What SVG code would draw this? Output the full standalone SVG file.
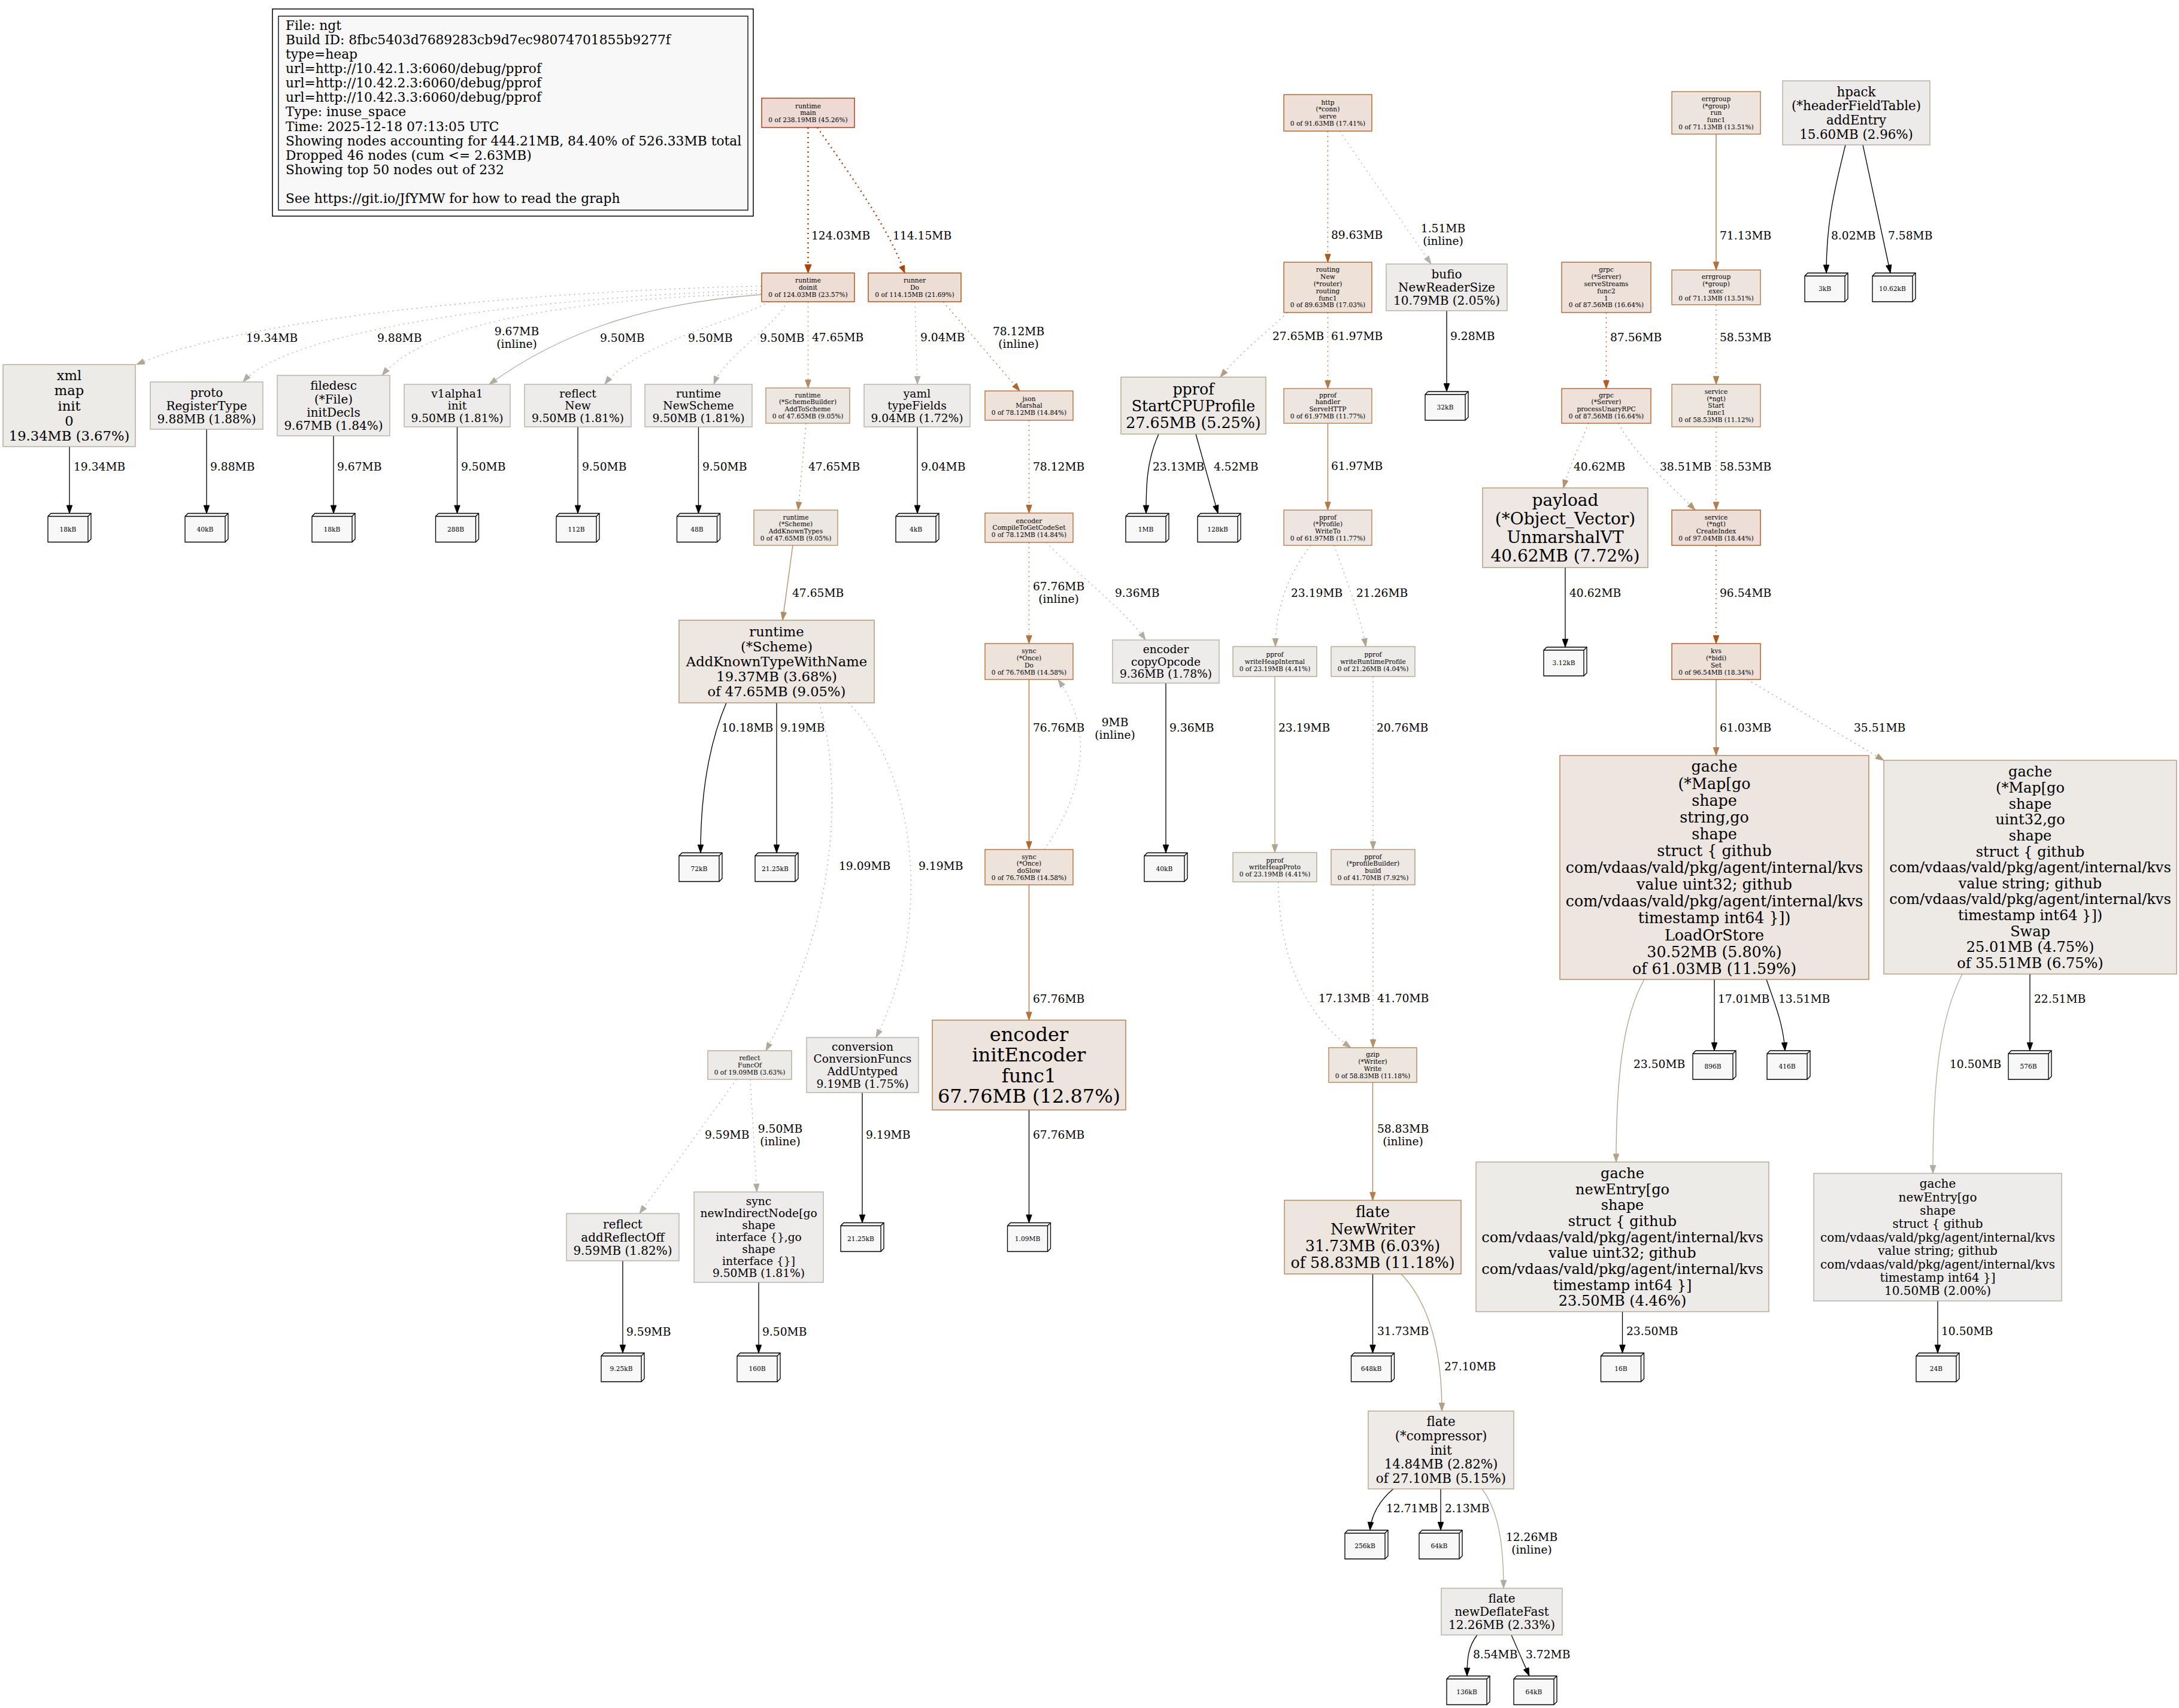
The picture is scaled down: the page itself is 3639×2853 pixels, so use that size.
<svg xmlns="http://www.w3.org/2000/svg" xmlns:xlink="http://www.w3.org/1999/xlink" width="3639" height="2853" viewBox="0 0 3639 2853">
<style>
text{font-family:"DejaVu Serif","Liberation Serif",serif;fill:#000}
.t{text-anchor:middle}
.lg{font-size:21.8px}
.f8{font-size:10.67px}
.f14{font-size:18.67px}
.f15{font-size:20px}
.f16{font-size:21.33px}
.f17{font-size:22.67px}
.f18{font-size:24px}
.f19{font-size:25.33px}
.f21{font-size:28px}
.f24{font-size:32px}
.node rect{stroke-width:1.33}
.e{fill:none;stroke-width:1.33}
.d{stroke-dasharray:2,6}
.w2{stroke-width:2.67}
.lb{font-size:18.67px}
.c{text-anchor:middle}
.tag path.ar{fill:#000;stroke:#000}
.tag .e{stroke:#000}
</style>
<defs>
<g id="cube">
<path d="M0,5 L5,0 L72,0 L72,43 L67,48 L0,48 Z" fill="#f8f8f8" stroke="#000" stroke-width="1.33"/>
<path d="M0,5 L67,5 L72,0 M67,5 L67,48" fill="none" stroke="#000" stroke-width="1.33"/>
</g>
</defs>
<rect width="3639" height="2853" fill="#fff"/>

<g id="legend">
<rect x="455" y="15" width="803" height="346" fill="none" stroke="#000" stroke-width="1.5"/>
<rect x="465" y="27" width="784" height="324" fill="#f8f8f8" stroke="#000" stroke-width="1.33"/>
<text class="lg" x="477" y="49.8">File: ngt<tspan x="477" dy="24.1">Build ID: 8fbc5403d7689283cb9d7ec98074701855b9277f</tspan><tspan x="477" dy="24.1">type=heap</tspan><tspan x="477" dy="24.1">url=http://10.42.1.3:6060/debug/pprof</tspan><tspan x="477" dy="24.1">url=http://10.42.2.3:6060/debug/pprof</tspan><tspan x="477" dy="24.1">url=http://10.42.3.3:6060/debug/pprof</tspan><tspan x="477" dy="24.1">Type: inuse_space</tspan><tspan x="477" dy="24.1">Time: 2025-12-18 07:13:05 UTC</tspan><tspan x="477" dy="24.1">Showing nodes accounting for 444.21MB, 84.40% of 526.33MB total</tspan><tspan x="477" dy="24.1">Dropped 46 nodes (cum &lt;= 2.63MB)</tspan><tspan x="477" dy="24.1">Showing top 50 nodes out of 232</tspan><tspan x="477" dy="48.2">See https://git.io/JfYMW for how to read the graph</tspan></text>
</g>

<g id="edges">
<!-- call edges -->
<path class="e d w2" stroke="#b23e00" d="M1349.5,213 L1349.5,444"/><path fill="#b23e00" stroke="#b23e00" d="M1344,442 L1355,442 L1349.5,456 Z"/>
<text class="lb" x="1355" y="399.7">124.03MB</text>
<path class="e d w2" stroke="#b24100" d="M1365,213 C1415,285 1478,372 1507,445"/><path fill="#b24100" stroke="#b24100" d="M1511,456 L1501.9,446.4 L1510.6,443.1 Z"/>
<text class="lb" x="1491" y="399.7">114.15MB</text>
<path class="e d" stroke="#b2a691" d="M1272,478 C950,484 420,525 228,609"/><path fill="#b2a691" stroke="#b2a691" d="M228,609 L238.3,599.4 L242.1,608 Z"/>
<text class="lb" x="411" y="570.7">19.34MB</text>
<path class="e d" stroke="#b2ada1" d="M1272,485 C900,495 480,550 406,638"/><path fill="#b2ada1" stroke="#b2ada1" d="M406,638 L411,624.8 L418.1,630.8 Z"/>
<text class="lb" x="630" y="570.7">9.88MB</text>
<path class="e d" stroke="#b2ada2" d="M1272,490 C1000,498 720,530 638,627"/><path fill="#b2ada2" stroke="#b2ada2" d="M638,627 L643,613.8 L650.2,619.9 Z"/>
<text class="lb c" x="863" y="559.7">9.67MB<tspan x="863" dy="21">(inline)</tspan></text>
<path class="e" stroke="#b2ada2" d="M1272,492 C1100,505 950,545 817,642"/><path fill="#b2ada2" stroke="#b2ada2" d="M817,642 L825,630.4 L830.5,638 Z"/>
<text class="lb" x="1002" y="570.7">9.50MB</text>
<path class="e d" stroke="#b2ada2" d="M1285,504 C1230,535 1060,575 1010,642"/><path fill="#b2ada2" stroke="#b2ada2" d="M1010,642 L1014.2,628.5 L1021.7,634.1 Z"/>
<text class="lb" x="1149" y="570.7">9.50MB</text>
<path class="e d" stroke="#b2ada2" d="M1315,504 C1295,545 1210,595 1192,642"/><path fill="#b2ada2" stroke="#b2ada2" d="M1192,642 L1192.4,627.9 L1201.1,631.3 Z"/>
<text class="lb" x="1269" y="570.7">9.50MB</text>
<path class="e d" stroke="#b28b61" d="M1349.5,504 L1349.5,648"/><path fill="#b28b61" stroke="#b28b61" d="M1344.8,634.7 L1354.2,634.7 L1349.5,648 Z"/>
<text class="lb" x="1356" y="569.7">47.65MB</text>
<path class="e d" stroke="#b2ada3" d="M1528,504 L1532,642"/><path fill="#b2ada3" stroke="#b2ada3" d="M1527.4,628.7 L1536.7,628.7 L1532,642 Z"/>
<text class="lb" x="1537" y="569.7">9.04MB</text>
<path class="e d" stroke="#b2672e" d="M1575,504 L1703,653"/><path fill="#b2672e" stroke="#b2672e" d="M1703,653 L1690.8,645.9 L1697.9,639.9 Z"/>
<text class="lb c" x="1701" y="559.7">78.12MB<tspan x="1701" dy="21">(inline)</tspan></text>
<path class="e d" stroke="#b28b61" d="M1346,707 L1333,852"/><path fill="#b28b61" stroke="#b28b61" d="M1333,852 L1329.5,838.4 L1338.8,839.2 Z"/>
<text class="lb" x="1350" y="785.7">47.65MB</text>
<path class="e" stroke="#b28b61" d="M1324,911 L1307,1036"/><path fill="#b28b61" stroke="#b28b61" d="M1307,1036 L1304.2,1022.2 L1313.4,1023.4 Z"/>
<text class="lb" x="1323" y="996.7">47.65MB</text>
<path class="e d" stroke="#b2672e" d="M1718.5,702 L1718.5,857"/><path fill="#b2672e" stroke="#b2672e" d="M1713.8,843.7 L1723.2,843.7 L1718.5,857 Z"/>
<text class="lb" x="1725" y="785.7">78.12MB</text>
<path class="e d" stroke="#b2743f" d="M1718.5,906 L1718.5,1075"/><path fill="#b2743f" stroke="#b2743f" d="M1713.8,1061.7 L1723.2,1061.7 L1718.5,1075 Z"/>
<text class="lb c" x="1768" y="986.2">67.76MB<tspan x="1768" dy="21">(inline)</tspan></text>
<path class="e d" stroke="#b2ada2" d="M1747,906 C1800,960 1880,1020 1913,1069"/><path fill="#b2ada2" stroke="#b2ada2" d="M1913,1069 L1901.7,1060.6 L1909.5,1055.4 Z"/>
<text class="lb" x="1862" y="996.7">9.36MB</text>
<path class="e" stroke="#b26930" d="M1718.5,1135 L1718.5,1419"/><path fill="#b26930" stroke="#b26930" d="M1713.8,1405.7 L1723.2,1405.7 L1718.5,1419 Z"/>
<text class="lb" x="1725" y="1221.7">76.76MB</text>
<path class="e d" stroke="#b2ada3" d="M1744,1419 C1800,1340 1835,1230 1767,1135"/><path fill="#b2ada3" stroke="#b2ada3" d="M1767,1135 L1778.5,1143.1 L1770.9,1148.5 Z"/>
<text class="lb c" x="1862" y="1212.7">9MB<tspan x="1862" dy="21">(inline)</tspan></text>
<path class="e d" stroke="#b2a692" d="M1368,1174 C1405,1300 1405,1520 1279,1755"/><path fill="#b2a692" stroke="#b2a692" d="M1279,1755 L1281.2,1741.1 L1289.4,1745.5 Z"/>
<text class="lb" x="1401" y="1452.7">19.09MB</text>
<path class="e d" stroke="#b2ada2" d="M1417,1174 C1530,1290 1560,1540 1463,1733"/><path fill="#b2ada2" stroke="#b2ada2" d="M1463,1733 L1464.8,1719 L1473.2,1723.2 Z"/>
<text class="lb" x="1534" y="1452.7">9.19MB</text>
<path class="e" stroke="#b2743f" d="M1718.5,1478 L1718.5,1704"/><path fill="#b2743f" stroke="#b2743f" d="M1713.8,1690.7 L1723.2,1690.7 L1718.5,1704 Z"/>
<text class="lb" x="1725" y="1674.7">67.76MB</text>
<path class="e d" stroke="#b2ada1" d="M1230,1803 L1068,2027"/><path fill="#b2ada1" stroke="#b2ada1" d="M1068,2027 L1072,2013.5 L1079.6,2018.9 Z"/>
<text class="lb" x="1177" y="1901.7">9.59MB</text>
<path class="e d" stroke="#b2ada2" d="M1253,1803 L1264,1991"/><path fill="#b2ada2" stroke="#b2ada2" d="M1264,1991 L1258.5,1978 L1267.9,1977.4 Z"/>
<text class="lb c" x="1303" y="1891.7">9.50MB<tspan x="1303" dy="21">(inline)</tspan></text>
<path class="e d" stroke="#b2591a" d="M2217.5,219 L2217.5,438"/><path fill="#b2591a" stroke="#b2591a" d="M2212.8,424.7 L2222.2,424.7 L2217.5,438 Z"/>
<text class="lb" x="2223" y="398.7">89.63MB</text>
<path class="e d" stroke="#b2b2af" d="M2237,219 L2390,441"/><path fill="#b2b2af" stroke="#b2b2af" d="M2390,441 L2378.6,432.7 L2386.3,427.4 Z"/>
<text class="lb c" x="2410" y="387.7">1.51MB<tspan x="2410" dy="21">(inline)</tspan></text>
<path class="e d" stroke="#b29f83" d="M2150,522 C2110,560 2070,590 2038,630"/><path fill="#b29f83" stroke="#b29f83" d="M2038,630 L2042.7,616.7 L2050,622.5 Z"/>
<text class="lb" x="2125" y="567.7">27.65MB</text>
<path class="e d" stroke="#b27b49" d="M2217.5,522 L2217.5,649"/><path fill="#b27b49" stroke="#b27b49" d="M2212.8,635.7 L2222.2,635.7 L2217.5,649 Z"/>
<text class="lb" x="2223" y="567.7">61.97MB</text>
<path class="e" stroke="#b27b49" d="M2217.5,707 L2217.5,852"/><path fill="#b27b49" stroke="#b27b49" d="M2212.8,838.7 L2222.2,838.7 L2217.5,852 Z"/>
<text class="lb" x="2223" y="784.7">61.97MB</text>
<path class="e d" stroke="#b2a38b" d="M2189,911 C2150,960 2130,1020 2130,1080"/><path fill="#b2a38b" stroke="#b2a38b" d="M2125.3,1066.7 L2134.7,1066.7 L2130,1080 Z"/>
<text class="lb" x="2156" y="996.7">23.19MB</text>
<path class="e d" stroke="#b2a48e" d="M2228,911 C2245,960 2270,1020 2281,1080"/><path fill="#b2a48e" stroke="#b2a48e" d="M2281,1080 L2274,1067.7 L2283.2,1066.1 Z"/>
<text class="lb" x="2265" y="996.7">21.26MB</text>
<path class="e" stroke="#b2a38b" d="M2129,1130 L2129,1424"/><path fill="#b2a38b" stroke="#b2a38b" d="M2124.3,1410.7 L2133.7,1410.7 L2129,1424 Z"/>
<text class="lb" x="2135" y="1221.7">23.19MB</text>
<path class="e d" stroke="#b2a58f" d="M2293,1130 L2293,1419"/><path fill="#b2a58f" stroke="#b2a58f" d="M2288.3,1405.7 L2297.7,1405.7 L2293,1419 Z"/>
<text class="lb" x="2299" y="1221.7">20.76MB</text>
<path class="e d" stroke="#b2a895" d="M2135,1473 C2135,1580 2170,1690 2256,1750"/><path fill="#b2a895" stroke="#b2a895" d="M2256,1750 L2242.4,1746.2 L2247.8,1738.6 Z"/>
<text class="lb" x="2202" y="1673.7">17.13MB</text>
<path class="e d" stroke="#b2916b" d="M2293,1478 L2293,1750"/><path fill="#b2916b" stroke="#b2916b" d="M2288.3,1736.7 L2297.7,1736.7 L2293,1750 Z"/>
<text class="lb" x="2300" y="1673.7">41.70MB</text>
<path class="e" stroke="#b27e4e" d="M2292.5,1808 L2292.5,2005"/><path fill="#b27e4e" stroke="#b27e4e" d="M2287.8,1991.7 L2297.2,1991.7 L2292.5,2005 Z"/>
<text class="lb c" x="2343" y="1891.7">58.83MB<tspan x="2343" dy="21">(inline)</tspan></text>
<path class="e" stroke="#b29f84" d="M2340,2128 C2385,2175 2408,2250 2408,2357"/><path fill="#b29f84" stroke="#b29f84" d="M2403.3,2343.7 L2412.7,2343.7 L2408,2357 Z"/>
<text class="lb" x="2412" y="2288.7">27.10MB</text>
<path class="e" stroke="#b2ab9d" d="M2475,2487 C2500,2520 2511,2570 2511,2653"/><path fill="#b2ab9d" stroke="#b2ab9d" d="M2506.3,2639.7 L2515.7,2639.7 L2511,2653 Z"/>
<text class="lb c" x="2558" y="2573.7">12.26MB<tspan x="2558" dy="21">(inline)</tspan></text>
<path class="e" stroke="#b27039" d="M2866,224 L2866,451"/><path fill="#b27039" stroke="#b27039" d="M2861.3,437.7 L2870.7,437.7 L2866,451 Z"/>
<text class="lb" x="2872" y="399.7">71.13MB</text>
<path class="e d" stroke="#b25b1e" d="M2682.5,522 L2682.5,649"/><path fill="#b25b1e" stroke="#b25b1e" d="M2677.8,635.7 L2687.2,635.7 L2682.5,649 Z"/>
<text class="lb" x="2689" y="569.7">87.56MB</text>
<path class="e d" stroke="#b27f4f" d="M2866,509 L2866,642"/><path fill="#b27f4f" stroke="#b27f4f" d="M2861.3,628.7 L2870.7,628.7 L2866,642 Z"/>
<text class="lb" x="2872" y="569.7">58.53MB</text>
<path class="e d" stroke="#b2926d" d="M2653,707 C2640,740 2620,780 2611,815"/><path fill="#b2926d" stroke="#b2926d" d="M2611,815 L2609.8,800.9 L2618.8,803.3 Z"/>
<text class="lb" x="2628" y="785.7">40.62MB</text>
<path class="e d" stroke="#b29471" d="M2703,707 C2730,760 2790,810 2831,852"/><path fill="#b29471" stroke="#b29471" d="M2831,852 L2818.4,845.8 L2825,839.2 Z"/>
<text class="lb" x="2772" y="785.7">38.51MB</text>
<path class="e d" stroke="#b27f4f" d="M2866,713 L2866,852"/><path fill="#b27f4f" stroke="#b27f4f" d="M2861.3,838.7 L2870.7,838.7 L2866,852 Z"/>
<text class="lb" x="2872" y="785.7">58.53MB</text>
<path class="e d" stroke="#b2500e" d="M2866,911 L2866,1075"/><path fill="#b2500e" stroke="#b2500e" d="M2861.3,1061.7 L2870.7,1061.7 L2866,1075 Z"/>
<text class="lb" x="2872" y="996.7">96.54MB</text>
<path class="e" stroke="#b27c4b" d="M2866,1135 L2866,1262"/><path fill="#b27c4b" stroke="#b27c4b" d="M2861.3,1248.7 L2870.7,1248.7 L2866,1262 Z"/>
<text class="lb" x="2872" y="1221.7">61.03MB</text>
<path class="e d" stroke="#b29776" d="M2918,1135 L3146,1270"/><path fill="#b29776" stroke="#b29776" d="M3146,1270 L3132.2,1267.2 L3137,1259.2 Z"/>
<text class="lb" x="3096" y="1221.7">35.51MB</text>
<path class="e" stroke="#b2a28a" d="M2746,1636 C2710,1700 2699,1800 2699,1941"/><path fill="#b2a28a" stroke="#b2a28a" d="M2694.3,1927.7 L2703.7,1927.7 L2699,1941 Z"/>
<text class="lb" x="2728" y="1783.7">23.50MB</text>
<path class="e" stroke="#b2aca0" d="M3277,1627 C3240,1700 3228,1800 3228,1960"/><path fill="#b2aca0" stroke="#b2aca0" d="M3223.3,1946.7 L3232.7,1946.7 L3228,1960 Z"/>
<text class="lb" x="3256" y="1783.7">10.50MB</text>

<!-- tag edges -->
<g class="tag">
<path class="e" d="M116,745.5 L116,857.5"/><path class="ar" d="M111.3,844.2 L120.7,844.2 L116,857.5 Z"/><text class="lb" x="123" y="785.7">19.34MB</text>
<path class="e" d="M345,717 L345,857.5"/><path class="ar" d="M340.3,844.2 L349.7,844.2 L345,857.5 Z"/><text class="lb" x="351" y="785.7">9.88MB</text>
<path class="e" d="M557,728 L557,857.5"/><path class="ar" d="M552.3,844.2 L561.7,844.2 L557,857.5 Z"/><text class="lb" x="563" y="785.7">9.67MB</text>
<path class="e" d="M763.5,713 L763.5,857.5"/><path class="ar" d="M758.8,844.2 L768.2,844.2 L763.5,857.5 Z"/><text class="lb" x="770" y="785.7">9.50MB</text>
<path class="e" d="M965,713 L965,857.5"/><path class="ar" d="M960.3,844.2 L969.7,844.2 L965,857.5 Z"/><text class="lb" x="972" y="785.7">9.50MB</text>
<path class="e" d="M1166.5,713 L1166.5,857.5"/><path class="ar" d="M1161.8,844.2 L1171.2,844.2 L1166.5,857.5 Z"/><text class="lb" x="1173" y="785.7">9.50MB</text>
<path class="e" d="M1532,713 L1532,857.5"/><path class="ar" d="M1527.3,844.2 L1536.7,844.2 L1532,857.5 Z"/><text class="lb" x="1538" y="785.7">9.04MB</text>
<path class="e" d="M1935,725 C1915,770 1914,810 1914,857.5"/><path class="ar" d="M1909.3,844.2 L1918.7,844.2 L1914,857.5 Z"/><text class="lb" x="1925" y="785.7">23.13MB</text>
<path class="e" d="M1997,725 L2034,857.5"/><path class="ar" d="M2025.9,846 L2034.9,843.4 L2034,857.5 Z"/><text class="lb" x="2027" y="785.7">4.52MB</text>
<path class="e" d="M1213,1174 C1185,1240 1170,1320 1170,1424.5"/><path class="ar" d="M1165.3,1411.2 L1174.7,1411.2 L1170,1424.5 Z"/><text class="lb" x="1205" y="1221.7">10.18MB</text>
<path class="e" d="M1297,1174 L1297,1424.5"/><path class="ar" d="M1292.3,1411.2 L1301.7,1411.2 L1297,1424.5 Z"/><text class="lb" x="1303" y="1221.7">9.19MB</text>
<path class="e" d="M1947,1141 L1947,1424.5"/><path class="ar" d="M1942.3,1411.2 L1951.7,1411.2 L1947,1424.5 Z"/><text class="lb" x="1953" y="1221.7">9.36MB</text>
<path class="e" d="M1718.5,1854 L1718.5,2042.5"/><path class="ar" d="M1713.8,2029.2 L1723.2,2029.2 L1718.5,2042.5 Z"/><text class="lb" x="1725" y="1901.7">67.76MB</text>
<path class="e" d="M1440,1825 L1440,2042.5"/><path class="ar" d="M1435.3,2029.2 L1444.7,2029.2 L1440,2042.5 Z"/><text class="lb" x="1446" y="1901.7">9.19MB</text>
<path class="e" d="M1040,2106 L1040,2260"/><path class="ar" d="M1035.3,2246.7 L1044.7,2246.7 L1040,2260 Z"/><text class="lb" x="1046" y="2230.7">9.59MB</text>
<path class="e" d="M1267,2142 L1267,2260"/><path class="ar" d="M1262.3,2246.7 L1271.7,2246.7 L1267,2260 Z"/><text class="lb" x="1273" y="2230.7">9.50MB</text>
<path class="e" d="M2416,519 L2416,654"/><path class="ar" d="M2411.3,640.7 L2420.7,640.7 L2416,654 Z"/><text class="lb" x="2422" y="567.7">9.28MB</text>
<path class="e" d="M2614,948 L2614,1081"/><path class="ar" d="M2609.3,1067.7 L2618.7,1067.7 L2614,1081 Z"/><text class="lb" x="2621" y="996.7">40.62MB</text>
<path class="e" d="M3082,242 C3060,330 3050,380 3050,456"/><path class="ar" d="M3045.3,442.7 L3054.7,442.7 L3050,456 Z"/><text class="lb" x="3058" y="399.7">8.02MB</text>
<path class="e" d="M3111,242 L3157,456"/><path class="ar" d="M3149.6,444 L3158.8,442 L3157,456 Z"/><text class="lb" x="3153" y="399.7">7.58MB</text>
<path class="e" d="M2863,1636 L2863,1755"/><path class="ar" d="M2858.3,1741.7 L2867.7,1741.7 L2863,1755 Z"/><text class="lb" x="2869" y="1674.7">17.01MB</text>
<path class="e" d="M2950,1636 C2965,1680 2978,1710 2981,1755"/><path class="ar" d="M2975.4,1742 L2984.8,1741.4 L2981,1755 Z"/><text class="lb" x="2970" y="1674.7">13.51MB</text>
<path class="e" d="M3390,1627 L3390,1755"/><path class="ar" d="M3385.3,1741.7 L3394.7,1741.7 L3390,1755 Z"/><text class="lb" x="3397" y="1674.7">22.51MB</text>
<path class="e" d="M2292.5,2128 L2292.5,2260"/><path class="ar" d="M2287.8,2246.7 L2297.2,2246.7 L2292.5,2260 Z"/><text class="lb" x="2300" y="2229.7">31.73MB</text>
<path class="e" d="M2709.5,2191 L2709.5,2260"/><path class="ar" d="M2704.8,2246.7 L2714.2,2246.7 L2709.5,2260 Z"/><text class="lb" x="2716" y="2229.7">23.50MB</text>
<path class="e" d="M3236,2173 L3236,2260"/><path class="ar" d="M3231.3,2246.7 L3240.7,2246.7 L3236,2260 Z"/><text class="lb" x="3242" y="2229.7">10.50MB</text>
<path class="e" d="M2327,2487 C2305,2505 2290,2530 2288,2556"/><path class="ar" d="M2284.4,2542.4 L2293.7,2543.1 L2288,2556 Z"/><text class="lb" x="2315" y="2525.7">12.71MB</text>
<path class="e" d="M2406,2487 L2406,2556"/><path class="ar" d="M2401.3,2542.7 L2410.7,2542.7 L2406,2556 Z"/><text class="lb" x="2413" y="2525.7">2.13MB</text>
<path class="e" d="M2467,2731 C2452,2750 2450,2770 2450,2799.5"/><path class="ar" d="M2445.3,2786.2 L2454.7,2786.2 L2450,2799.5 Z"/><text class="lb" x="2460" y="2769.7">8.54MB</text>
<path class="e" d="M2524,2731 L2554,2799.5"/><path class="ar" d="M2544.4,2789.2 L2553,2785.5 L2554,2799.5 Z"/><text class="lb" x="2548" y="2769.7">3.72MB</text>
</g>
</g>

<g id="nodes">
<g id="n-runtime-main" class="node"><rect x="1272" y="164" width="155" height="49" fill="#eddad5" stroke="#b22500"/><text class="t f8" x="1349.5" y="180.5">runtime<tspan x="1349.5" dy="11.84">main</tspan><tspan x="1349.5" dy="11.84">0 of 238.19MB (45.26%)</tspan></text></g>
<g id="n-runtime-doinit" class="node"><rect x="1272" y="456" width="155" height="48" fill="#edddd5" stroke="#b23e00"/><text class="t f8" x="1349.5" y="472">runtime<tspan x="1349.5" dy="11.84">doinit</tspan><tspan x="1349.5" dy="11.84">0 of 124.03MB (23.57%)</tspan></text></g>
<g id="n-runner-do" class="node"><rect x="1450" y="456" width="155" height="48" fill="#edded5" stroke="#b24100"/><text class="t f8" x="1527.5" y="472">runner<tspan x="1527.5" dy="11.84">Do</tspan><tspan x="1527.5" dy="11.84">0 of 114.15MB (21.69%)</tspan></text></g>
<g id="n-xml" class="node"><rect x="5" y="609" width="221" height="137" fill="#edebe8" stroke="#b2a691"/><text class="t f17" x="115.5" y="635.3">xml<tspan x="115.5" dy="25.16">map</tspan><tspan x="115.5" dy="25.16">init</tspan><tspan x="115.5" dy="25.16">0</tspan><tspan x="115.5" dy="25.16">19.34MB (3.67%)</tspan></text></g>
<g id="n-proto" class="node"><rect x="251" y="638" width="188" height="79" fill="#edecea" stroke="#b2ada1"/><text class="t f15" x="345" y="662.5">proto<tspan x="345" dy="22.2">RegisterType</tspan><tspan x="345" dy="22.2">9.88MB (1.88%)</tspan></text></g>
<g id="n-filedesc" class="node"><rect x="463" y="627" width="188" height="101" fill="#edecea" stroke="#b2ada2"/><text class="t f15" x="557" y="651.4">filedesc<tspan x="557" dy="22.2">(*File)</tspan><tspan x="557" dy="22.2">initDecls</tspan><tspan x="557" dy="22.2">9.67MB (1.84%)</tspan></text></g>
<g id="n-v1alpha1" class="node"><rect x="675" y="642" width="177" height="71" fill="#edeceb" stroke="#b2ada2"/><text class="t f14" x="763.5" y="663.5">v1alpha1<tspan x="763.5" dy="20.72">init</tspan><tspan x="763.5" dy="20.72">9.50MB (1.81%)</tspan></text></g>
<g id="n-reflect-new" class="node"><rect x="876" y="642" width="178" height="71" fill="#edeceb" stroke="#b2ada2"/><text class="t f14" x="965" y="663.5">reflect<tspan x="965" dy="20.72">New</tspan><tspan x="965" dy="20.72">9.50MB (1.81%)</tspan></text></g>
<g id="n-newscheme" class="node"><rect x="1077" y="642" width="179" height="71" fill="#edeceb" stroke="#b2ada2"/><text class="t f14" x="1166.5" y="663.5">runtime<tspan x="1166.5" dy="20.72">NewScheme</tspan><tspan x="1166.5" dy="20.72">9.50MB (1.81%)</tspan></text></g>
<g id="n-addtoscheme" class="node"><rect x="1279" y="648" width="140" height="59" fill="#ede7e2" stroke="#b28b61"/><text class="t f8" x="1349" y="663.6">runtime<tspan x="1349" dy="11.84">(*SchemeBuilder)</tspan><tspan x="1349" dy="11.84">AddToScheme</tspan><tspan x="1349" dy="11.84">0 of 47.65MB (9.05%)</tspan></text></g>
<g id="n-yaml" class="node"><rect x="1443" y="642" width="177" height="71" fill="#edeceb" stroke="#b2ada3"/><text class="t f14" x="1531.5" y="663.5">yaml<tspan x="1531.5" dy="20.72">typeFields</tspan><tspan x="1531.5" dy="20.72">9.04MB (1.72%)</tspan></text></g>
<g id="n-json-marshal" class="node"><rect x="1645" y="653" width="147" height="49" fill="#ede3db" stroke="#b2672e"/><text class="t f8" x="1718.5" y="669.5">json<tspan x="1718.5" dy="11.84">Marshal</tspan><tspan x="1718.5" dy="11.84">0 of 78.12MB (14.84%)</tspan></text></g>
<g id="n-startcpuprofile" class="node"><rect x="1872" y="630" width="242" height="95" fill="#edeae6" stroke="#b29f83"/><text class="t f19" x="1993" y="658.5">pprof<tspan x="1993" dy="28.12">StartCPUProfile</tspan><tspan x="1993" dy="28.12">27.65MB (5.25%)</tspan></text></g>
<g id="n-addknowntypes" class="node"><rect x="1259" y="852" width="140" height="59" fill="#ede7e2" stroke="#b28b61"/><text class="t f8" x="1329" y="867.6">runtime<tspan x="1329" dy="11.84">(*Scheme)</tspan><tspan x="1329" dy="11.84">AddKnownTypes</tspan><tspan x="1329" dy="11.84">0 of 47.65MB (9.05%)</tspan></text></g>
<g id="n-compiletogetcodeset" class="node"><rect x="1645" y="857" width="147" height="49" fill="#ede3db" stroke="#b2672e"/><text class="t f8" x="1718.5" y="873.5">encoder<tspan x="1718.5" dy="11.84">CompileToGetCodeSet</tspan><tspan x="1718.5" dy="11.84">0 of 78.12MB (14.84%)</tspan></text></g>
<g id="n-addknowntypewithname" class="node"><rect x="1134" y="1036" width="326" height="138" fill="#ede7e2" stroke="#b28b61"/><text class="t f17" x="1297" y="1062.8">runtime<tspan x="1297" dy="25.16">(*Scheme)</tspan><tspan x="1297" dy="25.16">AddKnownTypeWithName</tspan><tspan x="1297" dy="25.16">19.37MB (3.68%)</tspan><tspan x="1297" dy="25.16">of 47.65MB (9.05%)</tspan></text></g>
<g id="n-once-do" class="node"><rect x="1645" y="1075" width="147" height="60" fill="#ede3db" stroke="#b26930"/><text class="t f8" x="1718.5" y="1091.1">sync<tspan x="1718.5" dy="11.84">(*Once)</tspan><tspan x="1718.5" dy="11.84">Do</tspan><tspan x="1718.5" dy="11.84">0 of 76.76MB (14.58%)</tspan></text></g>
<g id="n-copyopcode" class="node"><rect x="1858" y="1069" width="178" height="72" fill="#edeceb" stroke="#b2ada2"/><text class="t f14" x="1947" y="1091">encoder<tspan x="1947" dy="20.72">copyOpcode</tspan><tspan x="1947" dy="20.72">9.36MB (1.78%)</tspan></text></g>
<g id="n-doslow" class="node"><rect x="1645" y="1419" width="147" height="59" fill="#ede3db" stroke="#b26930"/><text class="t f8" x="1718.5" y="1434.6">sync<tspan x="1718.5" dy="11.84">(*Once)</tspan><tspan x="1718.5" dy="11.84">doSlow</tspan><tspan x="1718.5" dy="11.84">0 of 76.76MB (14.58%)</tspan></text></g>
<g id="n-funcof" class="node"><rect x="1182" y="1755" width="140" height="48" fill="#edebe8" stroke="#b2a692"/><text class="t f8" x="1252" y="1771">reflect<tspan x="1252" dy="11.84">FuncOf</tspan><tspan x="1252" dy="11.84">0 of 19.09MB (3.63%)</tspan></text></g>
<g id="n-conversion" class="node"><rect x="1347" y="1733" width="187" height="92" fill="#edeceb" stroke="#b2ada2"/><text class="t f14" x="1440.5" y="1754.6">conversion<tspan x="1440.5" dy="20.72">ConversionFuncs</tspan><tspan x="1440.5" dy="20.72">AddUntyped</tspan><tspan x="1440.5" dy="20.72">9.19MB (1.75%)</tspan></text></g>
<g id="n-initencoder" class="node"><rect x="1557" y="1704" width="323" height="150" fill="#ede4dd" stroke="#b2743f"/><text class="t f24" x="1718.5" y="1738.8">encoder<tspan x="1718.5" dy="34.5">initEncoder</tspan><tspan x="1718.5" dy="34.5">func1</tspan><tspan x="1718.5" dy="34.5">67.76MB (12.87%)</tspan></text></g>
<g id="n-addreflectoff" class="node"><rect x="946" y="2027" width="188" height="79" fill="#edecea" stroke="#b2ada1"/><text class="t f15" x="1040" y="2051.5">reflect<tspan x="1040" dy="22.2">addReflectOff</tspan><tspan x="1040" dy="22.2">9.59MB (1.82%)</tspan></text></g>
<g id="n-newindirectnode" class="node"><rect x="1159" y="1991" width="216" height="151" fill="#edeceb" stroke="#b2ada2"/><text class="t f14" x="1267" y="2013.2">sync<tspan x="1267" dy="20">newIndirectNode[go</tspan><tspan x="1267" dy="20">shape</tspan><tspan x="1267" dy="20">interface {},go</tspan><tspan x="1267" dy="20">shape</tspan><tspan x="1267" dy="20">interface {}]</tspan><tspan x="1267" dy="20">9.50MB (1.81%)</tspan></text></g>
<g id="n-http-serve" class="node"><rect x="2144" y="158" width="147" height="61" fill="#ede0d8" stroke="#b25617"/><text class="t f8" x="2217.5" y="174.6">http<tspan x="2217.5" dy="11.84">(*conn)</tspan><tspan x="2217.5" dy="11.84">serve</tspan><tspan x="2217.5" dy="11.84">0 of 91.63MB (17.41%)</tspan></text></g>
<g id="n-routing-new" class="node"><rect x="2144" y="438" width="147" height="84" fill="#ede1d8" stroke="#b2591a"/><text class="t f8" x="2217.5" y="454.2">routing<tspan x="2217.5" dy="11.84">New</tspan><tspan x="2217.5" dy="11.84">(*router)</tspan><tspan x="2217.5" dy="11.84">routing</tspan><tspan x="2217.5" dy="11.84">func1</tspan><tspan x="2217.5" dy="11.84">0 of 89.63MB (17.03%)</tspan></text></g>
<g id="n-bufio" class="node"><rect x="2315" y="441" width="202" height="78" fill="#edecea" stroke="#b2aca0"/><text class="t f15" x="2416" y="465">bufio<tspan x="2416" dy="22.2">NewReaderSize</tspan><tspan x="2416" dy="22.2">10.79MB (2.05%)</tspan></text></g>
<g id="n-servehttp" class="node"><rect x="2144" y="649" width="147" height="58" fill="#ede5df" stroke="#b27b49"/><text class="t f8" x="2217.5" y="663.6">pprof<tspan x="2217.5" dy="11.84">handler</tspan><tspan x="2217.5" dy="11.84">ServeHTTP</tspan><tspan x="2217.5" dy="11.84">0 of 61.97MB (11.77%)</tspan></text></g>
<g id="n-writeto" class="node"><rect x="2144" y="852" width="147" height="59" fill="#ede5df" stroke="#b27b49"/><text class="t f8" x="2217.5" y="867.6">pprof<tspan x="2217.5" dy="11.84">(*Profile)</tspan><tspan x="2217.5" dy="11.84">WriteTo</tspan><tspan x="2217.5" dy="11.84">0 of 61.97MB (11.77%)</tspan></text></g>
<g id="n-writeheapinternal" class="node"><rect x="2059" y="1080" width="140" height="50" fill="#edebe7" stroke="#b2a38b"/><text class="t f8" x="2129" y="1097">pprof<tspan x="2129" dy="11.84">writeHeapInternal</tspan><tspan x="2129" dy="11.84">0 of 23.19MB (4.41%)</tspan></text></g>
<g id="n-writeruntimeprofile" class="node"><rect x="2223" y="1080" width="140" height="50" fill="#edebe8" stroke="#b2a48e"/><text class="t f8" x="2293" y="1097">pprof<tspan x="2293" dy="11.84">writeRuntimeProfile</tspan><tspan x="2293" dy="11.84">0 of 21.26MB (4.04%)</tspan></text></g>
<g id="n-writeheapproto" class="node"><rect x="2059" y="1424" width="140" height="49" fill="#edebe7" stroke="#b2a38b"/><text class="t f8" x="2129" y="1440.5">pprof<tspan x="2129" dy="11.84">writeHeapProto</tspan><tspan x="2129" dy="11.84">0 of 23.19MB (4.41%)</tspan></text></g>
<g id="n-profilebuilder-build" class="node"><rect x="2223" y="1419" width="140" height="59" fill="#ede8e3" stroke="#b2916b"/><text class="t f8" x="2293" y="1434.6">pprof<tspan x="2293" dy="11.84">(*profileBuilder)</tspan><tspan x="2293" dy="11.84">build</tspan><tspan x="2293" dy="11.84">0 of 41.70MB (7.92%)</tspan></text></g>
<g id="n-gzip-write" class="node"><rect x="2219" y="1750" width="147" height="58" fill="#ede6df" stroke="#b27e4e"/><text class="t f8" x="2292.5" y="1765.1">gzip<tspan x="2292.5" dy="11.84">(*Writer)</tspan><tspan x="2292.5" dy="11.84">Write</tspan><tspan x="2292.5" dy="11.84">0 of 58.83MB (11.18%)</tspan></text></g>
<g id="n-flate-newwriter" class="node"><rect x="2145" y="2005" width="295" height="123" fill="#ede6df" stroke="#b27e4e"/><text class="t f19" x="2292.5" y="2033.4">flate<tspan x="2292.5" dy="28.12">NewWriter</tspan><tspan x="2292.5" dy="28.12">31.73MB (6.03%)</tspan><tspan x="2292.5" dy="28.12">of 58.83MB (11.18%)</tspan></text></g>
<g id="n-compressor-init" class="node"><rect x="2285" y="2357" width="243" height="130" fill="#edeae7" stroke="#b29f84"/><text class="t f16" x="2406.5" y="2382.3">flate<tspan x="2406.5" dy="23.68">(*compressor)</tspan><tspan x="2406.5" dy="23.68">init</tspan><tspan x="2406.5" dy="23.68">14.84MB (2.82%)</tspan><tspan x="2406.5" dy="23.68">of 27.10MB (5.15%)</tspan></text></g>
<g id="n-newdeflatefast" class="node"><rect x="2407" y="2653" width="202" height="78" fill="#edecea" stroke="#b2ab9d"/><text class="t f15" x="2508" y="2677">flate<tspan x="2508" dy="22.2">newDeflateFast</tspan><tspan x="2508" dy="22.2">12.26MB (2.33%)</tspan></text></g>
<g id="n-errgroup-run" class="node"><rect x="2792" y="153" width="148" height="71" fill="#ede4dd" stroke="#b27039"/><text class="t f8" x="2866" y="168.7">errgroup<tspan x="2866" dy="11.84">(*group)</tspan><tspan x="2866" dy="11.84">run</tspan><tspan x="2866" dy="11.84">func1</tspan><tspan x="2866" dy="11.84">0 of 71.13MB (13.51%)</tspan></text></g>
<g id="n-hpack" class="node"><rect x="2977" y="135" width="246" height="107" fill="#edebe9" stroke="#b2a998"/><text class="t f16" x="3100" y="160.7">hpack<tspan x="3100" dy="23.68">(*headerFieldTable)</tspan><tspan x="3100" dy="23.68">addEntry</tspan><tspan x="3100" dy="23.68">15.60MB (2.96%)</tspan></text></g>
<g id="n-servestreams" class="node"><rect x="2608" y="438" width="149" height="84" fill="#ede1d9" stroke="#b25b1e"/><text class="t f8" x="2682.5" y="454.2">grpc<tspan x="2682.5" dy="11.84">(*Server)</tspan><tspan x="2682.5" dy="11.84">serveStreams</tspan><tspan x="2682.5" dy="11.84">func2</tspan><tspan x="2682.5" dy="11.84">1</tspan><tspan x="2682.5" dy="11.84">0 of 87.56MB (16.64%)</tspan></text></g>
<g id="n-errgroup-exec" class="node"><rect x="2792" y="451" width="148" height="58" fill="#ede4dd" stroke="#b27039"/><text class="t f8" x="2866" y="466.1">errgroup<tspan x="2866" dy="11.84">(*group)</tspan><tspan x="2866" dy="11.84">exec</tspan><tspan x="2866" dy="11.84">0 of 71.13MB (13.51%)</tspan></text></g>
<g id="n-processunaryrpc" class="node"><rect x="2608" y="649" width="149" height="58" fill="#ede1d9" stroke="#b25b1e"/><text class="t f8" x="2682.5" y="663.6">grpc<tspan x="2682.5" dy="11.84">(*Server)</tspan><tspan x="2682.5" dy="11.84">processUnaryRPC</tspan><tspan x="2682.5" dy="11.84">0 of 87.56MB (16.64%)</tspan></text></g>
<g id="n-service-start" class="node"><rect x="2792" y="642" width="148" height="71" fill="#ede6df" stroke="#b27f4f"/><text class="t f8" x="2866" y="657.7">service<tspan x="2866" dy="11.84">(*ngt)</tspan><tspan x="2866" dy="11.84">Start</tspan><tspan x="2866" dy="11.84">func1</tspan><tspan x="2866" dy="11.84">0 of 58.53MB (11.12%)</tspan></text></g>
<g id="n-payload" class="node"><rect x="2476" y="815" width="276" height="133" fill="#ede8e3" stroke="#b2926d"/><text class="t f21" x="2614" y="845">payload<tspan x="2614" dy="31.08">(*Object_Vector)</tspan><tspan x="2614" dy="31.08">UnmarshalVT</tspan><tspan x="2614" dy="31.08">40.62MB (7.72%)</tspan></text></g>
<g id="n-createindex" class="node"><rect x="2792" y="852" width="148" height="59" fill="#eddfd7" stroke="#b24f0d"/><text class="t f8" x="2866" y="867.6">service<tspan x="2866" dy="11.84">(*ngt)</tspan><tspan x="2866" dy="11.84">CreateIndex</tspan><tspan x="2866" dy="11.84">0 of 97.04MB (18.44%)</tspan></text></g>
<g id="n-kvs-set" class="node"><rect x="2792" y="1075" width="148" height="60" fill="#ede0d7" stroke="#b2500e"/><text class="t f8" x="2866" y="1091.1">kvs<tspan x="2866" dy="11.84">(*bidi)</tspan><tspan x="2866" dy="11.84">Set</tspan><tspan x="2866" dy="11.84">0 of 96.54MB (18.34%)</tspan></text></g>
<g id="n-loadorstore" class="node"><rect x="2605" y="1262" width="516" height="374" fill="#ede5df" stroke="#b27c4b"/><text class="t f19" x="2863" y="1289.4">gache<tspan x="2863" dy="28.12">(*Map[go</tspan><tspan x="2863" dy="28.12">shape</tspan><tspan x="2863" dy="28.12">string,go</tspan><tspan x="2863" dy="28.12">shape</tspan><tspan x="2863" dy="28.12">struct { github</tspan><tspan x="2863" dy="28.12">com/vdaas/vald/pkg/agent/internal/kvs</tspan><tspan x="2863" dy="28.12">value uint32; github</tspan><tspan x="2863" dy="28.12">com/vdaas/vald/pkg/agent/internal/kvs</tspan><tspan x="2863" dy="28.12">timestamp int64 }])</tspan><tspan x="2863" dy="28.12">LoadOrStore</tspan><tspan x="2863" dy="28.12">30.52MB (5.80%)</tspan><tspan x="2863" dy="28.12">of 61.03MB (11.59%)</tspan></text></g>
<g id="n-swap" class="node"><rect x="3146" y="1270" width="489" height="357" fill="#ede9e5" stroke="#b29776"/><text class="t f18" x="3390.5" y="1297.3">gache<tspan x="3390.5" dy="26.64">(*Map[go</tspan><tspan x="3390.5" dy="26.64">shape</tspan><tspan x="3390.5" dy="26.64">uint32,go</tspan><tspan x="3390.5" dy="26.64">shape</tspan><tspan x="3390.5" dy="26.64">struct { github</tspan><tspan x="3390.5" dy="26.64">com/vdaas/vald/pkg/agent/internal/kvs</tspan><tspan x="3390.5" dy="26.64">value string; github</tspan><tspan x="3390.5" dy="26.64">com/vdaas/vald/pkg/agent/internal/kvs</tspan><tspan x="3390.5" dy="26.64">timestamp int64 }])</tspan><tspan x="3390.5" dy="26.64">Swap</tspan><tspan x="3390.5" dy="26.64">25.01MB (4.75%)</tspan><tspan x="3390.5" dy="26.64">of 35.51MB (6.75%)</tspan></text></g>
<g id="n-newentry-uint32" class="node"><rect x="2465" y="1941" width="489" height="250" fill="#edebe7" stroke="#b2a28a"/><text class="t f18" x="2709.5" y="1968.1">gache<tspan x="2709.5" dy="26.64">newEntry[go</tspan><tspan x="2709.5" dy="26.64">shape</tspan><tspan x="2709.5" dy="26.64">struct { github</tspan><tspan x="2709.5" dy="26.64">com/vdaas/vald/pkg/agent/internal/kvs</tspan><tspan x="2709.5" dy="26.64">value uint32; github</tspan><tspan x="2709.5" dy="26.64">com/vdaas/vald/pkg/agent/internal/kvs</tspan><tspan x="2709.5" dy="26.64">timestamp int64 }]</tspan><tspan x="2709.5" dy="26.64">23.50MB (4.46%)</tspan></text></g>
<g id="n-newentry-string" class="node"><rect x="3029" y="1960" width="414" height="213" fill="#edecea" stroke="#b2aca0"/><text class="t f15" x="3236" y="1984.1">gache<tspan x="3236" dy="22.4">newEntry[go</tspan><tspan x="3236" dy="22.4">shape</tspan><tspan x="3236" dy="22.4">struct { github</tspan><tspan x="3236" dy="22.4">com/vdaas/vald/pkg/agent/internal/kvs</tspan><tspan x="3236" dy="22.4">value string; github</tspan><tspan x="3236" dy="22.4">com/vdaas/vald/pkg/agent/internal/kvs</tspan><tspan x="3236" dy="22.4">timestamp int64 }]</tspan><tspan x="3236" dy="22.4">10.50MB (2.00%)</tspan></text></g>
</g>

<g id="tags">
<g id="t-xml"><use href="#cube" x="80" y="857.5"/><text class="t f8" x="113.5" y="887.8">18kB</text></g>
<g id="t-proto"><use href="#cube" x="309" y="857.5"/><text class="t f8" x="342.5" y="887.8">40kB</text></g>
<g id="t-filedesc"><use href="#cube" x="521" y="857.5"/><text class="t f8" x="554.5" y="887.8">18kB</text></g>
<g id="t-v1alpha1"><use href="#cube" x="727.5" y="857.5"/><text class="t f8" x="761" y="887.8">288B</text></g>
<g id="t-reflectnew"><use href="#cube" x="929" y="857.5"/><text class="t f8" x="962.5" y="887.8">112B</text></g>
<g id="t-newscheme"><use href="#cube" x="1130.5" y="857.5"/><text class="t f8" x="1164" y="887.8">48B</text></g>
<g id="t-yaml"><use href="#cube" x="1496" y="857.5"/><text class="t f8" x="1529.5" y="887.8">4kB</text></g>
<g id="t-cpu1"><use href="#cube" x="1880" y="857.5"/><text class="t f8" x="1913.5" y="887.8">1MB</text></g>
<g id="t-cpu2"><use href="#cube" x="2000" y="857.5"/><text class="t f8" x="2033.5" y="887.8">128kB</text></g>
<g id="t-akt1"><use href="#cube" x="1134" y="1424.5"/><text class="t f8" x="1167.5" y="1454.8">72kB</text></g>
<g id="t-akt2"><use href="#cube" x="1261" y="1424.5"/><text class="t f8" x="1294.5" y="1454.8">21.25kB</text></g>
<g id="t-copyopcode"><use href="#cube" x="1911" y="1424.5"/><text class="t f8" x="1944.5" y="1454.8">40kB</text></g>
<g id="t-conversion"><use href="#cube" x="1404" y="2042.5"/><text class="t f8" x="1437.5" y="2072.8">21.25kB</text></g>
<g id="t-initencoder"><use href="#cube" x="1682.5" y="2042.5"/><text class="t f8" x="1716" y="2072.8">1.09MB</text></g>
<g id="t-addreflectoff"><use href="#cube" x="1004" y="2260"/><text class="t f8" x="1037.5" y="2290.3">9.25kB</text></g>
<g id="t-newindirect"><use href="#cube" x="1231" y="2260"/><text class="t f8" x="1264.5" y="2290.3">160B</text></g>
<g id="t-newwriter"><use href="#cube" x="2256.5" y="2260"/><text class="t f8" x="2290" y="2290.3">648kB</text></g>
<g id="t-newentry1"><use href="#cube" x="2673.5" y="2260"/><text class="t f8" x="2707" y="2290.3">16B</text></g>
<g id="t-newentry2"><use href="#cube" x="3200" y="2260"/><text class="t f8" x="3233.5" y="2290.3">24B</text></g>
<g id="t-bufio"><use href="#cube" x="2380" y="654"/><text class="t f8" x="2413.5" y="684.3">32kB</text></g>
<g id="t-payload"><use href="#cube" x="2578" y="1081"/><text class="t f8" x="2611.5" y="1111.3">3.12kB</text></g>
<g id="t-hpack1"><use href="#cube" x="3014" y="456"/><text class="t f8" x="3047.5" y="486.3">3kB</text></g>
<g id="t-hpack2"><use href="#cube" x="3127" y="456"/><text class="t f8" x="3160.5" y="486.3">10.62kB</text></g>
<g id="t-los1"><use href="#cube" x="2827" y="1755"/><text class="t f8" x="2860.5" y="1785.3">896B</text></g>
<g id="t-los2"><use href="#cube" x="2951" y="1755"/><text class="t f8" x="2984.5" y="1785.3">416B</text></g>
<g id="t-swap"><use href="#cube" x="3354" y="1755"/><text class="t f8" x="3387.5" y="1785.3">576B</text></g>
<g id="t-comp1"><use href="#cube" x="2246" y="2556"/><text class="t f8" x="2279.5" y="2586.3">256kB</text></g>
<g id="t-comp2"><use href="#cube" x="2370" y="2556"/><text class="t f8" x="2403.5" y="2586.3">64kB</text></g>
<g id="t-ndf1"><use href="#cube" x="2416" y="2799.5"/><text class="t f8" x="2449.5" y="2829.8">136kB</text></g>
<g id="t-ndf2"><use href="#cube" x="2528" y="2799.5"/><text class="t f8" x="2561.5" y="2829.8">64kB</text></g>
</g>
</svg>
